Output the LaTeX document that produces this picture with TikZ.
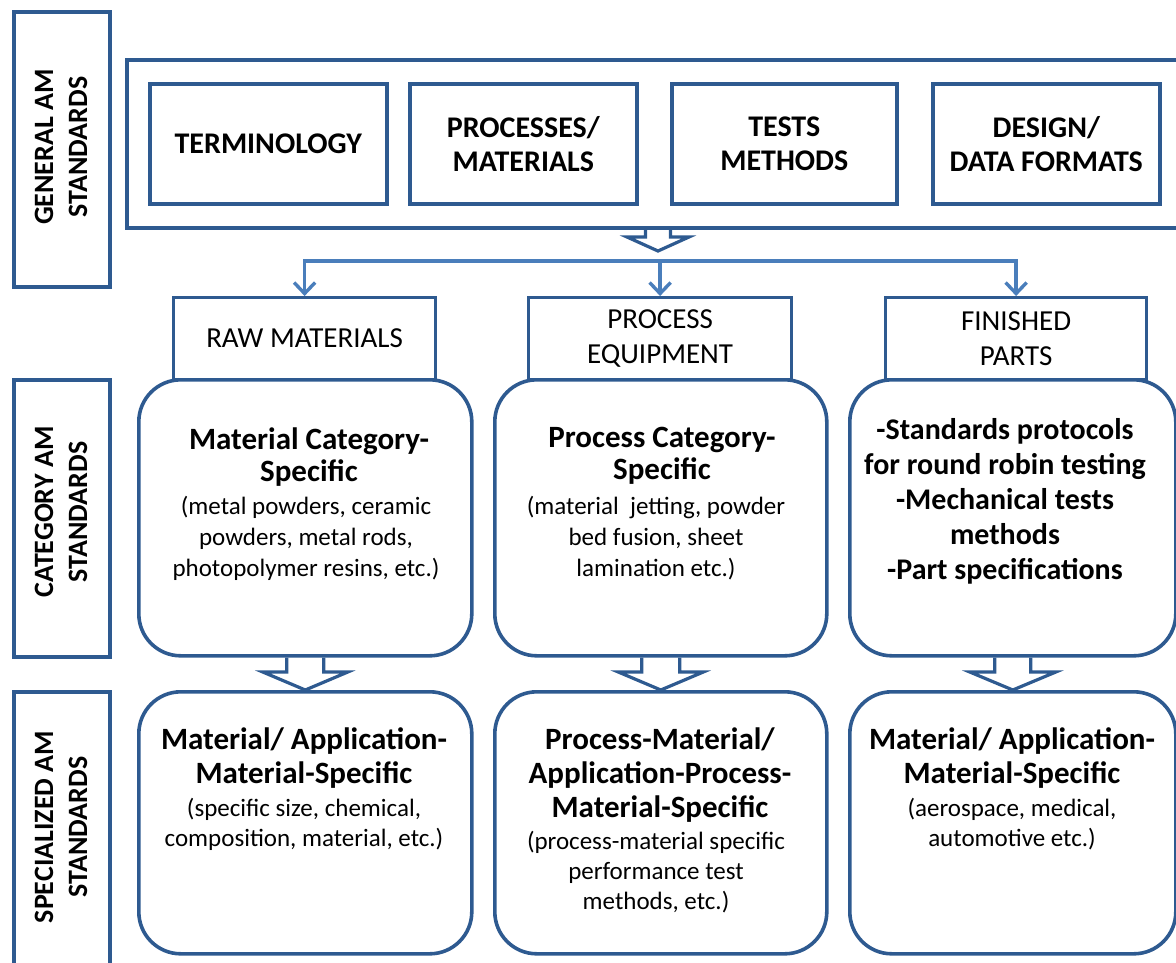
\documentclass[tikz,border=0pt]{standalone}
\usepackage{fontspec}
\setmainfont{Carlito}
\usetikzlibrary{arrows.meta,calc,backgrounds}
\definecolor{boxblue}{RGB}{46,90,144}
\definecolor{linkblue}{RGB}{74,126,187}
\newcommand{\blkarrow}[5]{% #1 top point, #2 tip point, #3 stem half, #4 head half, #5 head height
  \draw[blockarrow] ($(#1)+(-#3,0)$) -- ($(#2)+(-#3,-#5)$) -- ($(#2)+(-#4,-#5)$) -- (#2)
    -- ($(#2)+(#4,-#5)$) -- ($(#2)+(#3,-#5)$) -- ($(#1)+(#3,0)$);}
\begin{document}
\begin{tikzpicture}[x=1pt,y=-1pt,
  frame/.style={draw=boxblue, line width=3.6pt, inner sep=0pt, anchor=north west},
  rbox/.style={draw=boxblue, line width=3.6pt, rounded corners=42pt, inner sep=0pt, anchor=north west},
  hbox/.style={draw=boxblue, line width=3.2pt, inner sep=0pt, anchor=north west},
  blockarrow/.style={draw=boxblue, line width=3.2pt, fill=white, line join=miter},
  conn/.style={draw=linkblue, line width=3.4pt},
  lab/.style={font=\fontsize{28}{34}\selectfont\bfseries, align=center, rotate=90},
  topt/.style={font=\fontsize{30}{34}\selectfont\bfseries, align=center},
  hdrt/.style={font=\fontsize{29}{35}\selectfont, align=center},
  ttl/.style={font=\fontsize{31}{32}\selectfont\bfseries, align=center},
  ttlb/.style={font=\fontsize{31}{34}\selectfont\bfseries, align=center},
  ttlc/.style={font=\fontsize{30}{35}\selectfont\bfseries, align=center},
  desc/.style={font=\fontsize{25}{31}\selectfont, align=center},
  descb/.style={font=\fontsize{25}{30}\selectfont, align=center}
]
\useasboundingbox (0,0) rectangle (1176,962);
\clip (0,0) rectangle (1176,962);

% row labels
\node[frame, minimum width=96pt, minimum height=275pt] (genbox) at (12,10) {};
\node[frame, minimum width=96pt, minimum height=277pt] (catbox) at (12,378) {};
\node[frame, minimum width=96pt, minimum height=290pt] (specbox) at (12,690) {};
\node[lab] (gentxt) at (61,147) {GENERAL AM\\STANDARDS};
\node[lab] (cattxt) at (61,512) {CATEGORY AM\\STANDARDS};
\node[lab] (spectxt) at (61,827) {SPECIALIZED AM\\STANDARDS};

% general standards
\node[frame, minimum width=1080pt, minimum height=168pt] (outer) at (125,58) {};
\node[frame, minimum width=237pt, minimum height=120pt] (term) at (148,82) {};
\node[frame, minimum width=227pt, minimum height=120pt] (procm) at (408,82) {};
\node[frame, minimum width=225pt, minimum height=120pt] (tests) at (670,82) {};
\node[frame, minimum width=227pt, minimum height=120pt] (design) at (931,82) {};
\node[topt] (termt) at (term.center) {TERMINOLOGY};
\node[topt] (procmt) at (procm.center) {PROCESSES/\\MATERIALS};
\node[topt] (testst) at (tests.center) {TESTS\\METHODS};
\node[topt] (designt) at (design.center) {DESIGN/\\DATA FORMATS};

% category headers
\node[hbox, minimum width=262pt, minimum height=82pt] (hdr1) at (172,296) {};
\node[hbox, minimum width=263pt, minimum height=82pt] (hdr2) at (527,296) {};
\node[hbox, minimum width=261pt, minimum height=82pt] (hdr3) at (884,296) {};
\node[hdrt] (hdr1t) at (hdr1.center) {RAW MATERIALS};
\node[hdrt] (hdr2t) at (hdr2.center) {PROCESS\\EQUIPMENT};
\node[hdrt] (hdr3t) at (hdr3.center) {FINISHED\\PARTS};

% category boxes
\node[rbox, minimum width=333pt, minimum height=276pt] (cat1) at (137,378) {};
\node[rbox, minimum width=332pt, minimum height=276pt] (cat2) at (493,378) {};
\node[rbox, minimum width=326pt, minimum height=276pt] (cat3) at (848,378) {};
% specialized boxes
\node[rbox, minimum width=333pt, minimum height=262pt] (low1) at (137,690) {};
\node[rbox, minimum width=332pt, minimum height=262pt] (low2) at (493,690) {};
\node[rbox, minimum width=326pt, minimum height=262pt] (low3) at (848,690) {};

% texts
\node[ttl] (c1t) at (309,457) {Material Category-\\Specific};
\node[desc] (c1d) at (306,538) {(metal powders, ceramic\\powders, metal rods,\\photopolymer resins, etc.)};
\node[ttl] (c2t) at (662,456) {Process Category-\\Specific};
\node[desc] (c2d) at (656,538) {(material\ \ jetting, powder\\bed fusion, sheet\\lamination etc.)};
\node[ttlc] (c3t) at (1005,501) {-Standards protocols\\for round robin testing\\-Mechanical tests\\methods\\-Part specifications};
\node[ttlb] (l1t) at (304,758) {Material/ Application-\\Material-Specific};
\node[descb] (l1d) at (304,824) {(specific size, chemical,\\composition, material, etc.)};
\node[ttlb] (l2t) at (660,775) {Process-Material/\\Application-Process-\\Material-Specific};
\node[descb] (l2d) at (656,872) {(process-material specific\\performance test\\methods, etc.)};
\node[ttlb] (l3t) at (1012,758) {Material/ Application-\\Material-Specific};
\node[descb] (l3d) at (1012,824) {(aerospace, medical,\\automotive etc.)};

% connectors
\path (hdr2.north) ++(0,-35) coordinate (bus);
\coordinate (gtop) at (658,226);
\coordinate (gtip) at (658,251);
\draw[conn,-{Straight Barb[length=11pt,width=21pt]}] (bus) -| (hdr1.north);
\draw[conn,-{Straight Barb[length=11pt,width=21pt]}] (bus) -| (hdr3.north);
\draw[conn,-{Straight Barb[length=11pt,width=21pt]}] (bus) -- (hdr2.north);

\begin{scope}[on background layer]
\blkarrow{gtop}{gtip}{12.5}{31}{14}
\blkarrow{cat1.south}{low1.north}{18.5}{42.5}{18}
\blkarrow{cat2.south}{low2.north}{19}{42.5}{18}
\blkarrow{cat3.south}{low3.north}{18}{43}{18}
\end{scope}
\end{tikzpicture}
\end{document}
